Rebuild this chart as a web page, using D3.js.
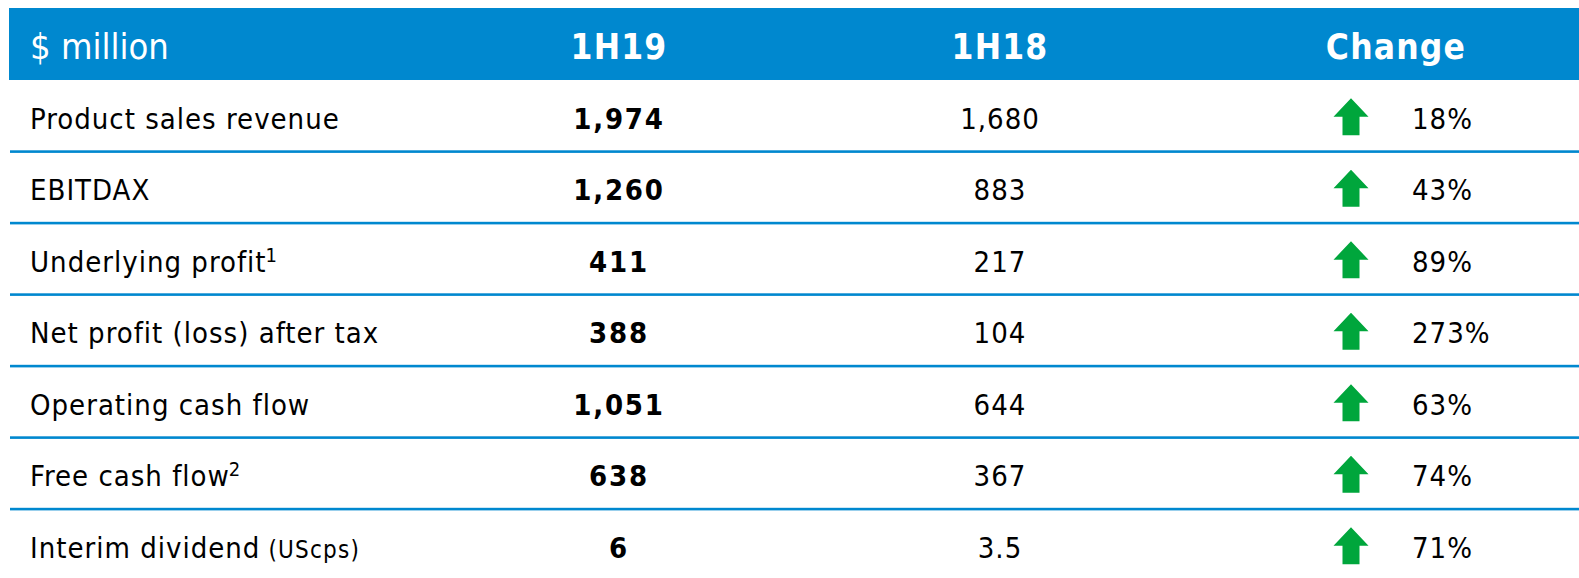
<!DOCTYPE html>
<html>
<head>
<meta charset="utf-8">
<script src="https://cdn.jsdelivr.net/npm/d3@7"></script>
<style>
html,body{margin:0;padding:0;background:#fff;}
svg{display:block;}
text{font-family:"DejaVu Sans Condensed","DejaVu Sans",sans-serif;font-stretch:condensed;}
</style>
</head>
<body>
<svg id="chart" width="1579" height="578"></svg>
<script>
const headers = ["$ million", "1H19", "1H18", "Change"];
const categories = ["Product sales revenue", "EBITDAX", "Underlying profit", "Net profit (loss) after tax", "Operating cash flow", "Free cash flow", "Interim dividend"];
const superscripts = ["", "", "1", "", "", "2", ""];
const suffixes = ["", "", "", "", "", "", " (UScps)"];
const values1H19 = ["1,974", "1,260", "411", "388", "1,051", "638", "6"];
const values1H18 = ["1,680", "883", "217", "104", "644", "367", "3.5"];
const changes = ["18%", "43%", "89%", "273%", "63%", "74%", "71%"];

const W = 1579, H = 578;
const blue = "#0088CF", green = "#00A63C";
const svg = d3.select("#chart");

const headerTop = 8, headerBottom = 80;
const y = d3.scaleBand().domain(d3.range(categories.length)).range([headerBottom, headerBottom + 71.5 * categories.length]).paddingInner(0);
const colX = {h19: 619, h18: 1000, arrow: 1351, change: 1412, label: 30};

// header
svg.append("rect").attr("x", 9).attr("y", headerTop).attr("width", W - 9).attr("height", headerBottom - headerTop).attr("fill", blue);
const hy = 59;
svg.append("text").attr("x", colX.label).attr("y", hy).attr("fill", "#fff").attr("font-size", 36).text(headers[0]);
[[headers[1], colX.h19], [headers[2], colX.h18], [headers[3], 1396]].forEach(([t, x]) => {
  svg.append("text").attr("x", x).attr("y", hy).attr("fill", "#fff").attr("font-size", 35).attr("font-weight", "bold")
    .attr("letter-spacing", 1.2).attr("text-anchor", "middle").text(t);
});

// rows
const rows = svg.selectAll("g.row").data(categories).join("g").attr("class", "row")
  .attr("transform", (d, i) => `translate(0,${y(i)})`);

const bh = y.bandwidth();
rows.filter((d, i) => i < categories.length - 1).append("rect")
  .attr("x", 10).attr("y", bh - 1.2).attr("width", W - 10).attr("height", 2.6).attr("fill", blue);

const base = bh / 2 + 13;
const lab = rows.append("text").attr("x", colX.label).attr("y", base).attr("font-size", 29).attr("letter-spacing", 1).attr("fill", "#000");
lab.append("tspan").text(d => d);
lab.append("tspan").attr("font-size", 20).attr("dy", -10).attr("dx", -1).text((d, i) => superscripts[i]);
lab.append("tspan").attr("font-size", 24).attr("letter-spacing", 1.2).text((d, i) => suffixes[i]);

rows.append("text").attr("x", colX.h19).attr("y", base).attr("text-anchor", "middle").attr("font-size", 29).attr("font-weight", "bold")
  .attr("letter-spacing", 1.8).text((d, i) => values1H19[i]);
rows.append("text").attr("x", colX.h18).attr("y", base).attr("text-anchor", "middle").attr("font-size", 29).attr("letter-spacing", 1)
  .text((d, i) => values1H18[i]);
rows.append("text").attr("x", colX.change).attr("y", base).attr("font-size", 29).attr("letter-spacing", 1).text((d, i) => changes[i]);

// arrows
const c = bh / 2 + 1;
const ax = colX.arrow;
const arrowPts = [[ax, c - 18.5], [ax + 17.5, c], [ax + 8.5, c], [ax + 8.5, c + 18.5], [ax - 8.5, c + 18.5], [ax - 8.5, c], [ax - 17.5, c]];
rows.append("path").attr("d", d3.line()(arrowPts) + "Z").attr("fill", green);
</script>
</body>
</html>
